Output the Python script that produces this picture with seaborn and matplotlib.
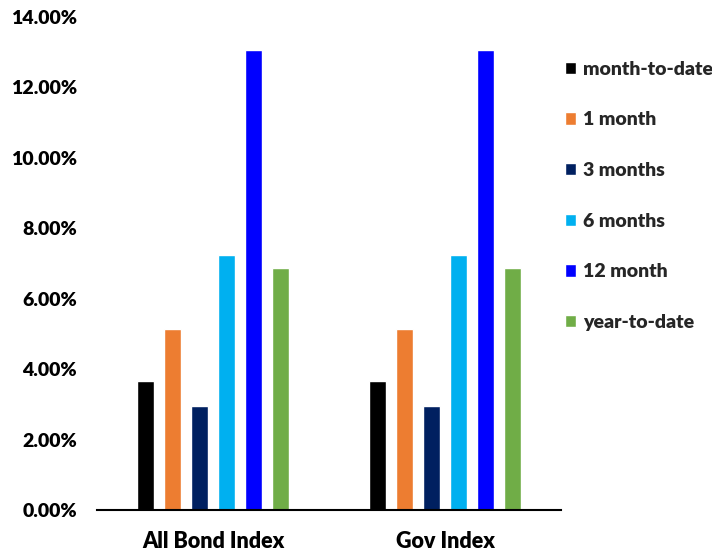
import matplotlib
matplotlib.use("Agg")
import matplotlib.pyplot as plt
import seaborn as sns
import pandas as pd
from matplotlib.ticker import FuncFormatter

categories = ["All Bond Index", "Gov Index"]
periods = ["month-to-date", "1 month", "3 months", "6 months", "12 month", "year-to-date"]
all_bond = [0.0366, 0.0514, 0.0295, 0.0723, 0.1306, 0.0686]
gov_index = [0.0366, 0.0514, 0.0295, 0.0723, 0.1306, 0.0686]
colors = ["#000000", "#ED7D31", "#002060", "#00B0F0", "#0000FF", "#70AD47"]

rows = []
for cat, vals in zip(categories, [all_bond, gov_index]):
    for p, v in zip(periods, vals):
        rows.append({"index": cat, "period": p, "value": v})
df = pd.DataFrame(rows)

sns.set_theme(style="white")
plt.rcParams["font.family"] = ["Lato", "DejaVu Sans"]

fig = plt.figure(figsize=(7.12, 5.54), dpi=100)
ax = fig.add_axes([97/712, 1 - 510/554, (561-97)/712, (510-17)/554])

sns.barplot(data=df, x="index", y="value", hue="period", order=categories,
            hue_order=periods, palette=colors, width=0.70, gap=0.39,
            saturation=1, ax=ax, legend=True)

ax.set_xlim(-0.5, 1.5)
ax.set_ylim(0, 0.14)
ax.set_yticks([i * 0.02 for i in range(8)])
ax.yaxis.set_major_formatter(FuncFormatter(lambda v, _: f"{v*100:.2f}%"))
ax.set_xlabel("")
ax.set_ylabel("")
for s in ["top", "right", "left"]:
    ax.spines[s].set_visible(False)
ax.spines["bottom"].set_color("black")
ax.spines["bottom"].set_linewidth(1.5)
ax.tick_params(axis="y", length=0, pad=14.5, labelsize=14)
ax.tick_params(axis="x", length=0, pad=15, labelsize=15.5)
for lab in ax.get_yticklabels() + ax.get_xticklabels():
    lab.set_fontweight("heavy")
    lab.set_color("black")

handles, labels = ax.get_legend_handles_labels()
ax.legend(handles, labels, frameon=False, loc="upper left",
          bbox_to_anchor=(557/712, 1 - 53/554), bbox_transform=fig.transFigure,
          prop={"weight": "heavy", "size": 14}, handlelength=0.6, handleheight=0.6,
          handletextpad=0.35, labelspacing=1.73, borderaxespad=0)

fig.savefig("out.png", dpi=100)
